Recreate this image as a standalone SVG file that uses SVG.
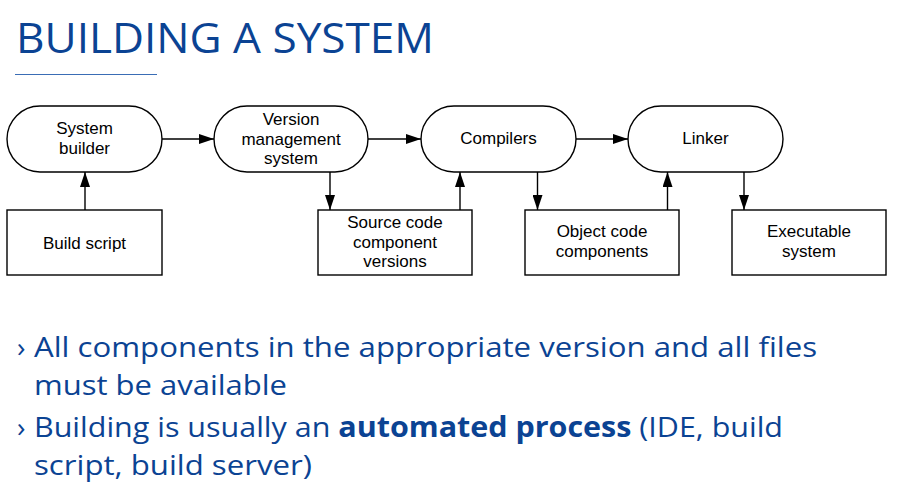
<svg xmlns="http://www.w3.org/2000/svg" width="897" height="498" viewBox="0 0 897 498">
  <style>
    .title { font-family: "Open Sans", "Noto Sans", "Liberation Sans", sans-serif; font-size: 42px; fill: #0B4393; }
    .bullet { font-family: "Open Sans", "Noto Sans", "Liberation Sans", sans-serif; font-size: 28px; fill: #0B4393; }
    .bullet .b { font-weight: bold; }
    .node rect { fill: #ffffff; stroke: #000000; stroke-width: 1.4; }
    .node text { font-family: "Liberation Sans", Arial, Helvetica, sans-serif; font-size: 17px; fill: #000000; text-anchor: middle; }
    .edge { stroke: #000000; stroke-width: 1.4; fill: none; marker-end: url(#head); }
  </style>
  <defs>
    <marker id="head" viewBox="0 0 15 10" refX="15" refY="5" markerWidth="15" markerHeight="10" markerUnits="userSpaceOnUse" orient="auto">
      <path d="M0,0 L15,5 L0,10 Z" fill="#000000"/>
    </marker>
  </defs>

  <rect width="897" height="498" fill="#ffffff"/>

  <!-- heading -->
  <text class="title" x="16" y="53" textLength="418" lengthAdjust="spacingAndGlyphs">BUILDING A SYSTEM</text>
  <line x1="15" y1="74.5" x2="157" y2="74.5" stroke="#3A6DB5" stroke-width="1.2"/>

  <!-- process nodes (rounded) -->
  <g id="system-builder" class="node">
    <rect x="7" y="106" width="155" height="66" rx="33" ry="33"/>
    <text x="84.5" y="134">System</text>
    <text x="84.5" y="154">builder</text>
  </g>
  <g id="version-management" class="node">
    <rect x="214" y="106" width="154" height="66" rx="33" ry="33"/>
    <text x="291" y="125">Version</text>
    <text x="291" y="145">management</text>
    <text x="291" y="164">system</text>
  </g>
  <g id="compilers" class="node">
    <rect x="421" y="106" width="155" height="66" rx="33" ry="33"/>
    <text x="498.5" y="144">Compilers</text>
  </g>
  <g id="linker" class="node">
    <rect x="628" y="106" width="155" height="66" rx="33" ry="33"/>
    <text x="705.5" y="144">Linker</text>
  </g>

  <!-- artefact nodes (square) -->
  <g id="build-script" class="node">
    <rect x="7" y="210" width="155" height="65"/>
    <text x="84.5" y="249">Build script</text>
  </g>
  <g id="source-code" class="node">
    <rect x="318" y="210" width="154" height="65"/>
    <text x="395" y="228">Source code</text>
    <text x="395" y="248">component</text>
    <text x="395" y="267">versions</text>
  </g>
  <g id="object-code" class="node">
    <rect x="525" y="210" width="154" height="65"/>
    <text x="602" y="237">Object code</text>
    <text x="602" y="257">components</text>
  </g>
  <g id="executable" class="node">
    <rect x="732" y="210" width="154" height="65"/>
    <text x="809" y="237">Executable</text>
    <text x="809" y="257">system</text>
  </g>

  <!-- connectors -->
  <g id="connectors">
    <line class="edge" x1="85" y1="210" x2="85" y2="172"/>
    <line class="edge" x1="162" y1="139" x2="214" y2="139"/>
    <line class="edge" x1="330" y1="172" x2="330" y2="210"/>
    <line class="edge" x1="368" y1="139" x2="421" y2="139"/>
    <line class="edge" x1="460" y1="210" x2="460" y2="172"/>
    <line class="edge" x1="537.5" y1="172" x2="537.5" y2="210"/>
    <line class="edge" x1="576" y1="139" x2="628" y2="139"/>
    <line class="edge" x1="667.5" y1="210" x2="667.5" y2="172"/>
    <line class="edge" x1="744" y1="172" x2="744" y2="210"/>
  </g>

  <!-- bullet list -->
  <g class="bullet">
    <text x="17" y="357">›</text>
    <text x="34" y="357" textLength="783" lengthAdjust="spacingAndGlyphs">All components in the appropriate version and all files</text>
    <text x="34" y="395" textLength="253" lengthAdjust="spacingAndGlyphs">must be available</text>
    <text x="17" y="437">›</text>
    <text x="34" y="437" textLength="749" lengthAdjust="spacingAndGlyphs">Building is usually an <tspan class="b">automated process</tspan> (IDE, build</text>
    <text x="34" y="475" textLength="278" lengthAdjust="spacingAndGlyphs">script, build server)</text>
  </g>
</svg>
